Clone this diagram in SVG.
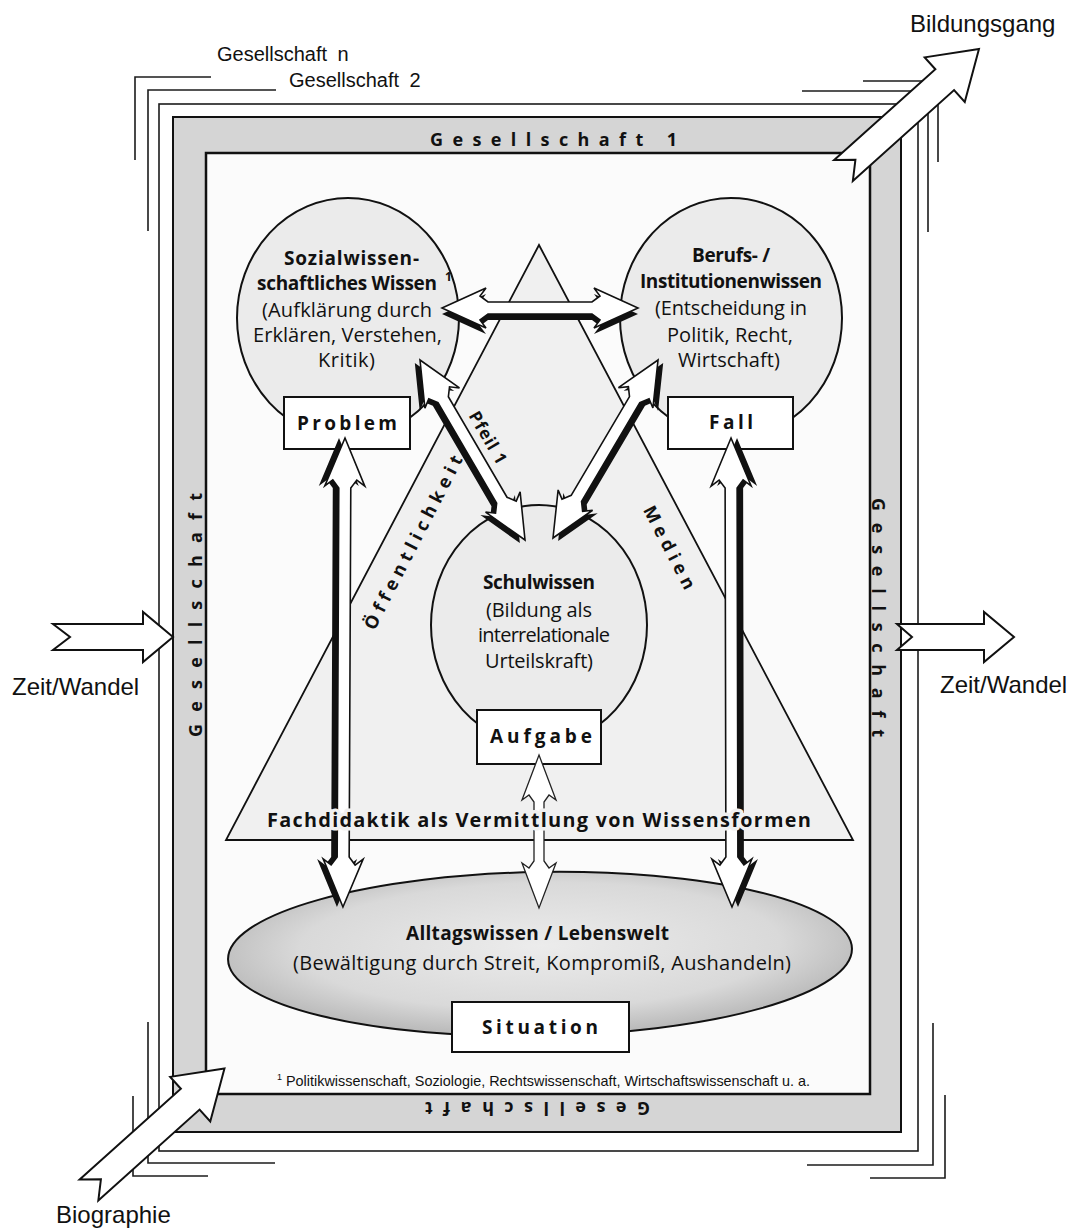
<svg xmlns="http://www.w3.org/2000/svg" width="1071" height="1230" viewBox="0 0 1071 1230">
<defs>
<style>
.ln{fill:none;stroke:#1c1c1c;stroke-width:1.6}
.lab{font-family:"Liberation Sans",Arial,sans-serif;font-size:24px;fill:#111}
.lab2{font-family:"Liberation Sans",Arial,sans-serif;font-size:20px;fill:#111}
.foot{font-family:"Liberation Sans",Arial,sans-serif;font-size:14.4px;fill:#111}
.t{font-family:"Open Sans","Noto Sans",sans-serif;font-size:20px;fill:#111}
.tb{font-family:"Open Sans","Noto Sans",sans-serif;font-size:19px;font-weight:700;fill:#111}
.sp{font-family:"Open Sans","Noto Sans",sans-serif;font-size:19px;font-weight:700;fill:#111}
.band{font-family:"Open Sans","Noto Sans",sans-serif;font-size:18px;font-weight:700;fill:#111}
.big{fill:#fff;stroke:#111;stroke-width:2;stroke-linejoin:miter}
.arw{fill:#fff;stroke:#111;stroke-width:1.6;stroke-linejoin:miter}
.thin{fill:#fff;stroke:#222;stroke-width:1.3}
.shd{fill:#111}
.box{fill:#fff;stroke:#111;stroke-width:2}
.blob{fill:#ebebeb;stroke:#111;stroke-width:2}
</style>
<radialGradient id="ellg" cx="0.5" cy="0.45" r="0.55">
<stop offset="0" stop-color="#ececec"/>
<stop offset="0.7" stop-color="#d9d9d9"/>
<stop offset="1" stop-color="#b8b8b8"/>
</radialGradient>
<path id="bigA" d="M0,-14 L136,-14 L136,-30 L182,0 L136,30 L136,14 L0,14 L16,0 Z"/>
<path id="aH" d="M0,0 L44,-20 L38,-12 L46,-6 L150,-6 L158,-12 L152,-20 L196,0 L152,20 L158,12 L150,6 L46,6 L38,12 L44,20 Z"/>
<path id="aD1" d="M0,0 L44,-20 L38,-12 L46,-6 L162.4,-6 L170.4,-12 L164.4,-20 L208.4,0 L164.4,20 L170.4,12 L162.4,6 L46,6 L38,12 L44,20 Z"/>
<path id="aD2" d="M0,0 L44,-20 L38,-12 L46,-6 L160.7,-6 L168.7,-12 L162.7,-20 L206.7,0 L162.7,20 L168.7,12 L160.7,6 L46,6 L38,12 L44,20 Z"/>
<path id="aV" d="M0,0 L48,-20 L42,-12 L50,-6 L419,-6 L427,-12 L421,-20 L469,0 L421,20 L427,12 L419,6 L50,6 L42,12 L48,20 Z"/>
<path id="aM" d="M0,0 L45,-17 L40,-10 L47,-5 L106,-5 L113,-10 L108,-17 L153,0 L108,17 L113,10 L106,5 L47,5 L40,10 L45,17 Z"/>
</defs>
<rect width="1071" height="1230" fill="#fff"/>

<g id="frame">
<path class="ln" d="M135,160 V77 H211"/>
<path class="ln" d="M148,231 V90 H276"/>
<path class="ln" d="M802,91 H928 V232"/>
<path class="ln" d="M863,81 H938 V162"/>
<path class="ln" d="M148,1022 V1163 H275"/>
<path class="ln" d="M133,1096 V1176 H208"/>
<path class="ln" d="M807,1165 H933 V1023"/>
<path class="ln" d="M870,1178 H945 V1095"/>
<rect class="ln" x="159" y="104" width="759" height="1047"/>
<rect x="173" y="117" width="728" height="1015" fill="#d5d5d5" stroke="#111" stroke-width="2"/>
<rect x="206" y="153" width="664" height="941" fill="#fbfbfb" stroke="#111" stroke-width="2.5"/>
<text class="band" x="430" y="146" textLength="247">Gesellschaft 1</text>
<text class="band" transform="translate(202,737) rotate(-90)" textLength="244">Gesellschaft</text>
<text class="band" transform="translate(872,498) rotate(90)" textLength="239">Gesellschaft</text>
<text class="band" transform="translate(650,1102) rotate(180)" textLength="225">Gesellschaft</text>
<text class="lab2" x="217" y="61">Gesellschaft<tspan dx="5"> n</tspan></text>
<text class="lab2" x="289" y="87">Gesellschaft<tspan dx="5"> 2</tspan></text>
</g>

<g id="triangle">
<polygon points="539,245 226,840 853,840" fill="#f0f0f0" stroke="#111" stroke-width="1.8"/>
<text class="band" transform="translate(420,543) rotate(-62.7)" text-anchor="middle" letter-spacing="5.2">Öffentlichkeit</text>
<text class="band" transform="translate(665,552.5) rotate(62.5)" text-anchor="middle" letter-spacing="4.9">Medien</text>
</g>

<g id="node-sozialwissen">
<ellipse class="blob" cx="348" cy="318" rx="111" ry="120"/>
<text class="tb" x="284" y="265" textLength="135">Sozialwissen-</text>
<text class="tb" x="257" y="290" textLength="180">schaftliches Wissen</text>
<text class="tb" x="445" y="281" style="font-size:12px">1</text>
<text class="t" x="262" y="317" textLength="170">(Aufklärung durch</text>
<text class="t" x="253" y="342" textLength="189">Erklären, Verstehen,</text>
<text class="t" x="318" y="367" textLength="57">Kritik)</text>
<rect class="box" x="284" y="397" width="126" height="52"/>
<text class="sp" x="297" y="430" textLength="100">Problem</text>
</g>

<g id="node-berufswissen">
<ellipse class="blob" cx="731" cy="318" rx="111" ry="120"/>
<text class="tb" x="692" y="262" textLength="78">Berufs- /</text>
<text class="tb" x="640" y="288" textLength="182">Institutionenwissen</text>
<text class="t" x="655" y="315" textLength="152">(Entscheidung in</text>
<text class="t" x="667" y="342" textLength="126">Politik, Recht,</text>
<text class="t" x="678" y="367" textLength="102">Wirtschaft)</text>
<rect class="box" x="668" y="397" width="125" height="52"/>
<text class="sp" x="709" y="429" textLength="44">Fall</text>
</g>

<g id="node-schulwissen">
<ellipse class="blob" cx="539" cy="625" rx="108" ry="120"/>
<text class="tb" x="483" y="589" textLength="112">Schulwissen</text>
<text class="t" x="486" y="617" textLength="106">(Bildung als</text>
<text class="t" x="478" y="642" textLength="132">interrelationale</text>
<text class="t" x="485" y="668" textLength="108">Urteilskraft)</text>
<rect class="box" x="477" y="710" width="124" height="54"/>
<text class="sp" x="490" y="743" textLength="102">Aufgabe</text>
</g>

<g id="node-alltagswissen">
<ellipse cx="540" cy="954" rx="312" ry="82" transform="rotate(-1 540 954)" fill="url(#ellg)" stroke="#111" stroke-width="2"/>
<text class="tb" x="406" y="940" textLength="263">Alltagswissen / Lebenswelt</text>
<text class="t" x="293" y="970" textLength="498">(Bewältigung durch Streit, Kompromiß, Aushandeln)</text>
<rect class="box" x="452" y="1002" width="177" height="50"/>
<text class="sp" x="482" y="1034" textLength="116">Situation</text>
</g>

<g id="connectors">
<g transform="translate(442,308)"><use href="#aH" class="shd" y="6"/><use href="#aH" class="arw"/></g>
<g transform="translate(420,360) rotate(59.74)"><use href="#aD1" class="shd" y="6"/><use href="#aD1" class="arw"/></g>
<g transform="translate(553,538) rotate(-59.46)"><use href="#aD2" class="shd" y="6"/><use href="#aD2" class="arw"/></g>
<g transform="translate(345,438) rotate(90.25)"><use href="#aV" class="shd" y="6"/><use href="#aV" class="arw"/></g>
<g transform="translate(732,907) rotate(-90.12)"><use href="#aV" class="shd" y="6"/><use href="#aV" class="arw"/></g>
<g transform="translate(539,755) rotate(90)"><use href="#aM" class="thin"/></g>
<text class="band" transform="translate(483,441) rotate(59.7)" text-anchor="middle" style="font-size:17px" letter-spacing="1">Pfeil 1</text>
</g>

<g id="fachdidaktik-label">
<text class="tb" x="267" y="827" textLength="544" style="font-size:20px;paint-order:stroke;stroke:#f0f0f0;stroke-width:7;stroke-linejoin:round">Fachdidaktik als Vermittlung von Wissensformen</text>
</g>

<g id="context-arrows">
<polygon class="big" points="53,624 143,624 143,612 173,637 143,662 143,650 53,650 70,637"/>
<text class="lab" x="12" y="695">Zeit/Wandel</text>
<polygon class="big" points="897,624 984,624 984,612 1014,637 984,662 984,650 897,650 912,637"/>
<text class="lab" x="940" y="693">Zeit/Wandel</text>
<use href="#bigA" class="big" transform="translate(843.5,170.5) rotate(-41.9)"/>
<text class="lab" x="910" y="32">Bildungsgang</text>
<use href="#bigA" class="big" transform="translate(89,1190) rotate(-41.9)"/>
<text class="lab" x="56" y="1223">Biographie</text>
</g>

<g id="footnote">
<text class="foot" x="277" y="1080" style="font-size:9px">1</text>
<text class="foot" x="286" y="1086" textLength="524">Politikwissenschaft, Soziologie, Rechtswissenschaft, Wirtschaftswissenschaft u. a.</text>
</g>
</svg>
